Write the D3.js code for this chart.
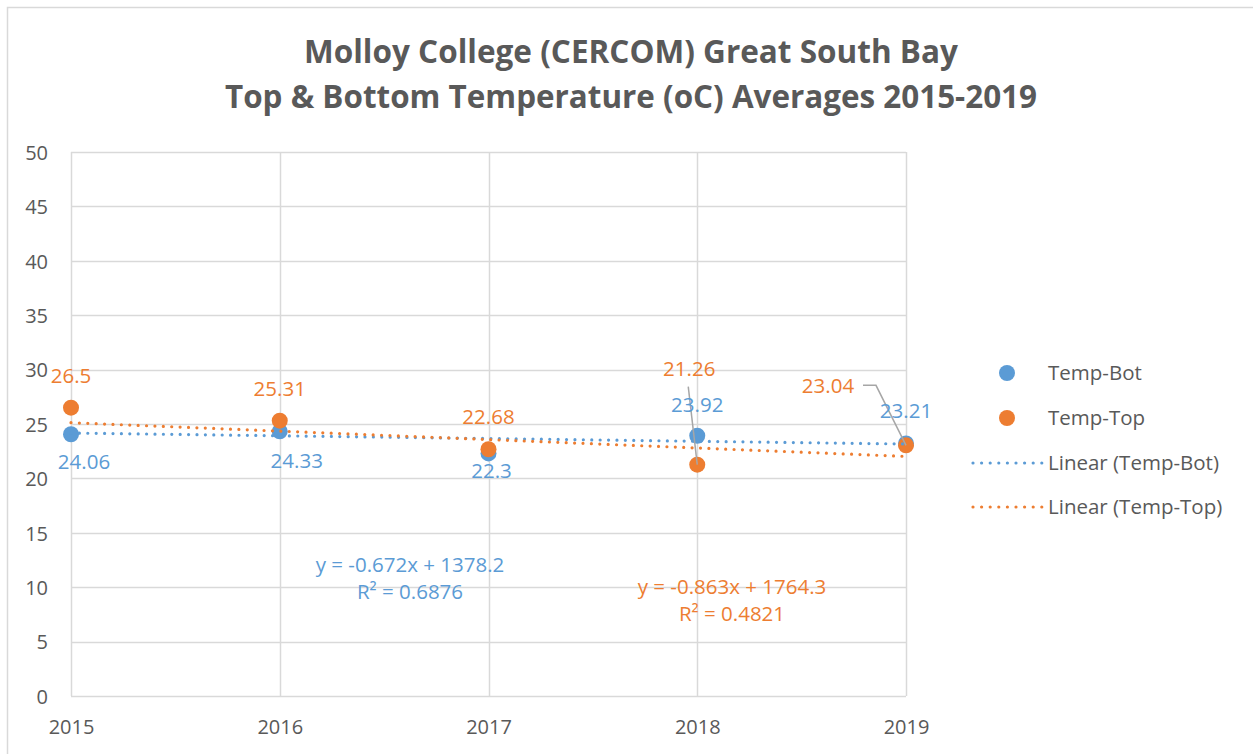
<!DOCTYPE html>
<html>
<head>
<meta charset="utf-8">
<script src="https://cdn.jsdelivr.net/npm/d3@7"></script>
<style>
  html, body { margin: 0; padding: 0; background: #fff; }
  svg { display: block; font-family: "Open Sans", "Noto Sans", sans-serif; }
</style>
</head>
<body>
<svg id="chart" width="1253" height="754"></svg>
<script>
// ---------- data ----------
const years = [2015, 2016, 2017, 2018, 2019];
const tempBot = [24.06, 24.33, 22.3, 23.92, 23.21];
const tempTop = [26.5, 25.31, 22.68, 21.26, 23.04];
// trendline values at first and last year (as drawn)
const trendYears = [2015, 2019];
const trendBot = [24.17, 23.16];
const trendTop = [25.12, 22.02];
const yTicks = [0, 5, 10, 15, 20, 25, 30, 35, 40, 45, 50];
const titleLines = ["Molloy College (CERCOM) Great South Bay", "Top & Bottom Temperature (oC) Averages 2015-2019"];
const eqBot = ["y = -0.672x + 1378.2", "R² = 0.6876"];
const eqTop = ["y = -0.863x + 1764.3", "R² = 0.4821"];
const seriesNames = ["Temp-Bot", "Temp-Top", "Linear (Temp-Bot)", "Linear (Temp-Top)"];

// ---------- layout / style ----------
const BLUE = "#5b9bd5", ORANGE = "#ed7d31", GRID = "#d9d9d9", TEXT = "#595959", LEADER = "#a6a6a6";
const plot = { left: 71, right: 906, top: 152, bottom: 696 };
// label offsets (center dx, baseline dy) relative to the point
const botLabelOff = [[13, 35], [17, 37], [3, 25], [0, -24], [0, -25]];
const topLabelOff = [[0, -25], [0, -25], [0, -25], [-8, -89], [-78, -52]];

const svg = d3.select("#chart");

// chart border
svg.append("rect").attr("x", 7.5).attr("y", 7.5).attr("width", 1270).attr("height", 800)
  .attr("fill", "#fff").attr("stroke", GRID).attr("stroke-width", 1.5);

const x = d3.scaleLinear().domain([2015, 2019]).range([plot.left, plot.right]);
const y = d3.scaleLinear().domain([0, 50]).range([plot.bottom, plot.top]);

// title
svg.append("g").selectAll("text").data(titleLines).join("text")
  .attr("x", 631).attr("y", (d, i) => 63 + i * 45)
  .attr("text-anchor", "middle")
  .attr("font-size", 32).attr("font-weight", "bold").attr("fill", TEXT)
  .attr("textLength", (d, i) => i === 0 ? 654 : 812)
  .attr("lengthAdjust", "spacingAndGlyphs")
  .text(d => d);

// gridlines
const grid = svg.append("g");
grid.selectAll("line.h").data(yTicks).join("line").attr("class", "h")
  .attr("x1", plot.left).attr("x2", plot.right)
  .attr("y1", d => Math.round(y(d)) + 0.5).attr("y2", d => Math.round(y(d)) + 0.5)
  .attr("stroke", GRID).attr("stroke-width", 1.5);
grid.selectAll("line.v").data(years).join("line").attr("class", "v")
  .attr("y1", plot.top).attr("y2", plot.bottom)
  .attr("x1", d => Math.round(x(d)) + 0.5).attr("x2", d => Math.round(x(d)) + 0.5)
  .attr("stroke", GRID).attr("stroke-width", 1.5);

// axes (labels only, using d3 axes)
const yAxis = svg.append("g").attr("transform", `translate(${plot.left},0)`)
  .call(d3.axisLeft(y).tickValues(yTicks).tickSize(0).tickPadding(23).tickFormat(d3.format("d")));
yAxis.select(".domain").remove();
yAxis.selectAll("text").attr("font-size", 20).attr("fill", TEXT)
  .attr("font-family", '"Open Sans", sans-serif').attr("dy", "0.36em");

const xAxis = svg.append("g").attr("transform", `translate(0,${plot.bottom})`)
  .call(d3.axisBottom(x).tickValues(years).tickSize(0).tickPadding(0).tickFormat(d3.format("d")));
xAxis.select(".domain").remove();
xAxis.selectAll("text").attr("font-size", 20).attr("fill", TEXT)
  .attr("font-family", '"Open Sans", sans-serif').attr("dy", 38);

// markers
function drawPoints(vals, color) {
  svg.append("g").selectAll("circle").data(vals).join("circle")
    .attr("cx", (d, i) => x(years[i])).attr("cy", d => y(d))
    .attr("r", 8).attr("fill", color);
}
drawPoints(tempBot, BLUE);
drawPoints(tempTop, ORANGE);

// trendlines (dotted)
const line = d3.line().x((d, i) => x(trendYears[i])).y(d => y(d));
function drawTrend(vals, color) {
  svg.append("path").datum(vals).attr("d", line)
    .attr("fill", "none").attr("stroke", color).attr("stroke-width", 3.2)
    .attr("stroke-linecap", "round").attr("stroke-dasharray", "0 8.4");
}
drawTrend(trendBot, BLUE);
drawTrend(trendTop, ORANGE);

// leader lines for displaced labels (2018 & 2019 top)
const i18 = years.indexOf(2018), i19 = years.indexOf(2019);
svg.append("path")
  .attr("d", d3.line()([[x(2018) - 9, y(tempTop[i18]) - 78], [x(2018), y(tempTop[i18])]]))
  .attr("fill", "none").attr("stroke", LEADER).attr("stroke-width", 1.5);
svg.append("path")
  .attr("d", d3.line()([[x(2019) - 43, y(tempTop[i19]) - 60], [x(2019) - 30, y(tempTop[i19]) - 60], [x(2019), y(tempTop[i19])]]))
  .attr("fill", "none").attr("stroke", LEADER).attr("stroke-width", 1.5);

// data labels
function drawLabels(vals, offs, color) {
  svg.append("g").selectAll("text").data(vals).join("text")
    .attr("x", (d, i) => x(years[i]) + offs[i][0])
    .attr("y", (d, i) => y(d) + offs[i][1])
    .attr("text-anchor", "middle").attr("font-size", 20.5).attr("fill", color)
    .text(d => d);
}
drawLabels(tempBot, botLabelOff, BLUE);
drawLabels(tempTop, topLabelOff, ORANGE);

// trendline equations
function drawEq(lines, cx, by, color) {
  svg.append("g").selectAll("text").data(lines).join("text")
    .attr("x", cx).attr("y", (d, i) => by + i * 27)
    .attr("text-anchor", "middle").attr("font-size", 20.5).attr("fill", color)
    .text(d => d);
}
drawEq(eqBot, 410, 572, BLUE);
drawEq(eqTop, 732, 594, ORANGE);

// legend
const lg = svg.append("g");
const legendY = [373, 418, 463, 507];
[BLUE, ORANGE].forEach((c, i) => {
  lg.append("circle").attr("cx", 1007).attr("cy", legendY[i]).attr("r", 8).attr("fill", c);
});
[BLUE, ORANGE].forEach((c, i) => {
  lg.append("line").attr("x1", 973).attr("x2", 1042)
    .attr("y1", legendY[i + 2]).attr("y2", legendY[i + 2])
    .attr("stroke", c).attr("stroke-width", 3.2).attr("stroke-linecap", "round")
    .attr("stroke-dasharray", "0 8.6");
});
lg.selectAll("text").data(seriesNames).join("text")
  .attr("x", 1048).attr("y", (d, i) => legendY[i] + 7)
  .attr("font-size", 20.5).attr("fill", TEXT)
  .text(d => d);
</script>
</body>
</html>
